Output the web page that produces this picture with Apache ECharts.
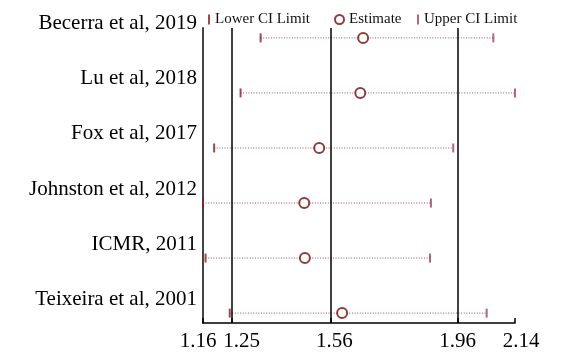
<!DOCTYPE html>
<html>
<head>
<meta charset="utf-8">
<script src="https://cdn.jsdelivr.net/npm/echarts@6/dist/echarts.min.js"></script>
<style>html,body{margin:0;padding:0;background:#fff}#c{width:562px;height:356px}</style>
</head>
<body>
<div id="c"></div>
<script>
// Studies, bottom to top (y position 1..6)
var studies = ['Teixeira et al, 2001', 'ICMR, 2011', 'Johnston et al, 2012', 'Fox et al, 2017', 'Lu et al, 2018', 'Becerra et al, 2019'];
var positions = [1, 2, 3, 4, 5, 6];
var lowerCI = [1.244, 1.168, 1.16, 1.195, 1.278, 1.341];
var estimate = [1.597, 1.48, 1.478, 1.525, 1.654, 1.663];
var upperCI = [2.051, 1.873, 1.876, 1.946, 2.14, 2.072];
var xTicks = [1.16, 1.25, 1.56, 1.96, 2.14];
var refLines = [1.25, 1.56, 1.96];

var FONT = '"Liberation Serif", "DejaVu Serif", serif';
var shiftStyle = {'1.16': 'l5', '1.25': 'r10', '1.56': 'r4', '1.96': 'c', '2.14': 'r6'};

var chart = echarts.init(document.getElementById('c'), null, {renderer: 'canvas'});
var option = {
  animation: false,
  backgroundColor: '#fff',
  grid: {left: 203, right: 47, top: 28, bottom: 33, containLabel: false},
  legend: [
    {data: ['Lower CI Limit'], left: 203, top: 7, icon: 'rect', itemWidth: 2, itemHeight: 10,
     textStyle: {fontFamily: FONT, fontSize: 15, color: '#111'}},
    {data: ['Estimate'], left: 329, top: 7, icon: 'circle', itemWidth: 9, itemHeight: 9,
     textStyle: {fontFamily: FONT, fontSize: 15, color: '#111'}},
    {data: ['Upper CI Limit'], left: 412, top: 7, icon: 'rect', itemWidth: 2, itemHeight: 10,
     textStyle: {fontFamily: FONT, fontSize: 15, color: '#111'}}
  ],
  xAxis: {
    type: 'value', min: 1.16, max: 2.14,
    axisLine: {show: true, onZero: false, lineStyle: {color: '#000', width: 1.5}},
    axisTick: {show: true, inside: true, length: 5, customValues: xTicks, lineStyle: {color: '#000', width: 1.5}},
    splitLine: {show: false},
    axisLabel: {
      customValues: xTicks, margin: 8, color: '#000', fontFamily: FONT, fontSize: 21,
      formatter: function (v) {
        var key = v.toFixed(2);
        return '{' + (shiftStyle[key] || 'c') + '|' + key + '}';
      },
      rich: {
        c: {fontFamily: FONT, fontSize: 21, color: '#000'},
        l5: {fontFamily: FONT, fontSize: 21, color: '#000', padding: [0, 10, 0, 0]},
        r10: {fontFamily: FONT, fontSize: 21, color: '#000', padding: [0, 0, 0, 20]},
        r4: {fontFamily: FONT, fontSize: 21, color: '#000', padding: [0, 0, 0, 8]},
        r6: {fontFamily: FONT, fontSize: 21, color: '#000', padding: [0, 0, 0, 12]}
      }
    }
  },
  yAxis: {
    type: 'value', min: 0.82, max: 6.18,
    axisLine: {show: true, lineStyle: {color: '#444', width: 2}},
    axisTick: {show: false},
    splitLine: {show: false},
    axisLabel: {
      customValues: positions, margin: 6, color: '#000', fontFamily: FONT, fontSize: 21,
      verticalAlign: 'bottom', lineHeight: 28,
      formatter: function (v) { return studies[Math.round(v) - 1]; }
    }
  },
  series: [
    {
      name: 'CI', type: 'custom', silent: true, z: 2,
      data: positions.map(function (p, i) { return [lowerCI[i], upperCI[i], p]; }),
      encode: {x: [0, 1], y: 2},
      renderItem: function (params, api) {
        var a = api.coord([api.value(0), api.value(2)]);
        var b = api.coord([api.value(1), api.value(2)]);
        return {type: 'line', shape: {x1: a[0], y1: a[1], x2: b[0], y2: b[1]},
                style: {stroke: '#9a5262', lineWidth: 1, lineDash: [1, 1.6]}};
      }
    },
    {
      name: 'Lower CI Limit', type: 'scatter', z: 3, symbol: 'rect', symbolSize: [2, 9],
      itemStyle: {color: '#8a1a2a'},
      data: positions.map(function (p, i) { return [lowerCI[i], p]; })
    },
    {
      name: 'Estimate', type: 'scatter', z: 4, symbol: 'circle', symbolSize: 10,
      itemStyle: {color: '#fff', borderColor: '#6e0f0f', borderWidth: 2},
      data: positions.map(function (p, i) { return [estimate[i], p]; }),
      markLine: {
        silent: true, symbol: ['none', 'none'], label: {show: false},
        lineStyle: {color: '#000', width: 1.5, type: 'solid'},
        data: refLines.map(function (x) { return {xAxis: x}; })
      }
    },
    {
      name: 'Upper CI Limit', type: 'scatter', z: 3, symbol: 'rect', symbolSize: [2, 9],
      itemStyle: {color: '#a04058'},
      data: positions.map(function (p, i) { return [upperCI[i], p]; })
    }
  ]
};
chart.setOption(option);
</script>
</body>
</html>
